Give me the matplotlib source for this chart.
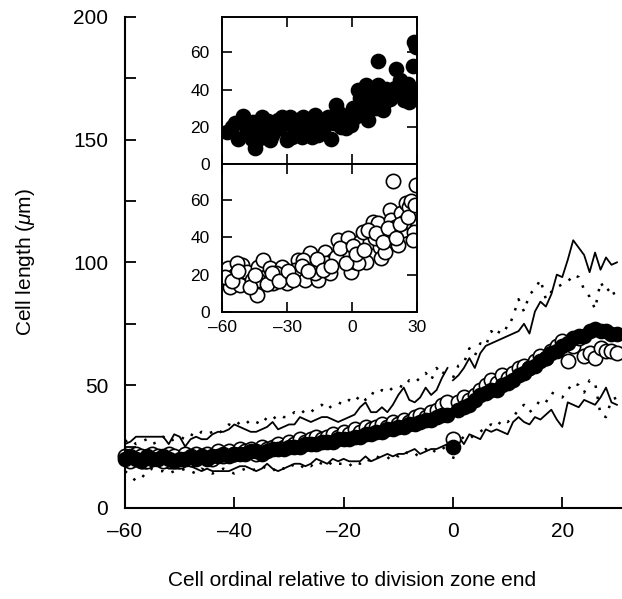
import numpy as np
import matplotlib
matplotlib.use("Agg")
import matplotlib.pyplot as plt

plt.rcParams['font.family'] = ['Liberation Sans', 'DejaVu Sans']
plt.rcParams['mathtext.fontset'] = 'custom'
plt.rcParams['mathtext.rm'] = 'Liberation Sans'
plt.rcParams['mathtext.it'] = 'Liberation Sans:italic'

# cell ordinal relative to division zone end
ordinal = np.arange(-60, 31)

filled_mean = [20, 21, 20, 19, 21, 20, 20, 21, 20, 19,
               20, 20, 21, 20, 21, 20, 21, 21, 22, 21,
               22, 22, 22, 23, 23, 22, 23, 24, 24, 24,
               25, 25, 25, 26, 26, 26, 27, 27, 27, 28,
               28, 28, 29, 29, 30, 30, 31, 31, 32, 32,
               33, 33, 34, 34, 35, 36, 36, 37, 38, 38,
               25, 40, 41, 42, 44, 46, 47, 48, 48, 50,
               51, 52, 54, 55, 57, 58, 60, 61, 63, 64,
               66, 67, 69, 70, 70, 72, 73, 72, 72, 71, 71]

open_mean = [21, 19, 22, 21, 19, 22, 21, 19, 22, 21,
             19, 22, 20, 22, 21, 22, 20, 23, 21, 23,
             22, 24, 23, 24, 22, 25, 24, 25, 26, 25,
             27, 26, 28, 27, 28, 29, 28, 29, 30, 29,
             31, 30, 32, 31, 33, 32, 33, 34, 33, 35,
             34, 36, 35, 37, 38, 37, 39, 40, 42, 43,
             28, 43, 45, 44, 46, 48, 50, 52, 51, 54,
             53, 55, 57, 58, 57, 60, 62, 61, 64, 66,
             68, 60, 66, 69, 62, 63, 61, 65, 64, 64, 63]

filled_upper = [26, 27, 29, 29, 29, 29, 29, 29, 26, 30,
                29, 25, 28, 29, 28, 28, 30, 31, 31, 32,
                34, 33, 32, 31, 31, 32, 33, 35, 32, 33,
                34, 34, 37, 36, 35, 36, 37, 37, 36, 35,
                36, 37, 38, 41, 43, 39, 39, 41, 39, 42,
                46, 49, 44, 43, 45, 49, 46, 48, 53, 57,
                52, 54, 57, 61, 57, 63, 66, 67, 68, 69,
                70, 71, 72, 75, 71, 80, 84, 82, 87, 95,
                94, 101, 109, 106, 103, 96, 104, 97, 102, 99, 100]

filled_lower = [18, 17, 17, 16, 16, 17, 17, 17, 16, 16,
                16, 17, 17, 16, 15, 16, 15, 15, 15, 15,
                16, 17, 17, 16, 15, 16, 18, 16, 15, 16,
                17, 18, 18, 17, 18, 20, 19, 18, 20, 19,
                20, 19, 19, 19, 21, 19, 20, 21, 22, 21,
                22, 22, 23, 24, 22, 23, 24, 24, 25, 26,
                27, 29, 26, 30, 29, 28, 32, 31, 32, 31,
                30, 35, 37, 35, 34, 37, 36, 38, 40, 36,
                33, 43, 42, 41, 44, 43, 42, 45, 49, 43, 42]

open_upper = [27, 28, 26, 27, 28, 26, 27, 29, 27, 28,
              29, 28, 30, 29, 31, 30, 31, 30, 32, 34,
              33, 35, 34, 36, 35, 34, 37, 36, 38, 37,
              37, 39, 38, 40, 39, 41, 42, 40, 42, 43,
              42, 44, 43, 46, 44, 47, 46, 48, 47, 49,
              50, 49, 52, 51, 53, 55, 52, 57, 54, 58,
              53, 58, 59, 65, 62, 67, 66, 72, 70, 74,
              73, 78, 85, 80, 87, 89, 93, 85, 88, 90,
              91, 92, 95, 94, 89, 86, 81, 92, 88, 90, 84]

open_lower = [15, 13, 11, 12, 15, 16, 15, 15, 14, 15,
              15, 16, 15, 14, 16, 15, 14, 15, 16, 15,
              14, 15, 16, 15, 16, 17, 16, 15, 17, 16,
              18, 17, 16, 18, 17, 19, 18, 17, 19, 18,
              18, 17, 19, 18, 20, 19, 21, 20, 20, 22,
              21, 23, 22, 21, 23, 24, 22, 24, 25, 23,
              20, 27, 29, 28, 30, 31, 33, 34, 33, 36,
              35, 37, 40, 42, 39, 41, 44, 43, 47, 46,
              45, 48, 51, 50, 47, 52, 51, 38, 37, 44, 45]

# inset: individual cells
inset_filled_x = [-55.5, -50.2, -52.5, -44.8, -47.9, -41.7, -37.9, -40.2, -34.1, -28.7,
                  -30.2, -26.4, -23.3, -21.8, -17.2, -15.7, -9.5, -12.6, -7.2, -11.1,
                  -1.9, -2.6, -0.3, 2.7, 6.6, 7.3, 4.3, 12.0, 14.2, 13.5,
                  12.0, 18.9, 20.4, 24.2, 27.3, 28.1, 28.8, 27.3, 10.4, -49.4,
                  -46.3, -43.3, -35.6, -32.5, -27.9, -24.9, -19.5, -18.7, -14.1, -5.7,
                  -4.9, 1.2, 5.8, 8.9, 16.5, 21.9, 22.7, 25.8, 15.8, 29.6,
                  -57.5, -53.8, -49.0, -45.5, -42.5, -39.0, -36.8, -33.3, -31.0, -25.8,
                  -22.5, -20.3, -16.3, -13.2, -8.2, -6.5, -3.8, 0.3, 3.5, 6.0,
                  9.7, 11.2, 14.8, 17.5, 19.8, 23.4, 26.5, 29.2]
inset_filled_y = [20.0, 25.6, 13.7, 8.4, 18.2, 25.3, 12.8, 20.0, 23.5, 25.3,
                  12.8, 18.2, 14.6, 21.7, 26.2, 15.5, 13.7, 20.8, 31.5, 25.3,
                  26.2, 19.1, 20.8, 39.6, 42.2, 23.5, 30.6, 42.2, 28.9, 36.0,
                  55.6, 39.6, 51.2, 34.2, 39.6, 52.9, 65.4, 36.9, 33.3, 21.7,
                  13.7, 18.2, 18.2, 25.3, 14.6, 23.5, 20.0, 14.6, 23.5, 25.3,
                  20.0, 25.3, 28.9, 36.0, 36.9, 44.9, 37.8, 43.1, 40.5, 62.7,
                  17.0, 22.0, 16.0, 22.5, 14.0, 23.0, 15.5, 19.5, 22.0, 20.5,
                  25.0, 17.5, 22.5, 17.0, 22.0, 28.0, 23.5, 30.0, 35.5, 38.0,
                  40.0, 30.0, 33.0, 35.0, 41.0, 40.5, 33.5, 38.0]

inset_open_x = [-57.1, -56.3, -54.0, -50.9, -51.7, -48.6, -46.3, -44.0, -43.3, -41.0,
                -40.2, -37.9, -36.4, -32.5, -31.8, -30.2, -28.7, -24.9, -24.1, -21.8,
                -19.5, -18.7, -15.7, -14.1, -12.6, -10.3, -8.8, -6.5, -4.2, -1.9,
                -3.4, -0.3, 1.2, 3.5, 4.3, 6.6, 8.1, 9.6, 12.0, 12.7,
                13.5, 15.0, 15.8, 17.3, 18.1, 18.9, 21.2, 22.7, 23.5, 25.0,
                26.5, 27.3, 28.8, 28.1, 29.6, -58.6, -53.3, -43.3, -34.9, -26.4,
                -22.6, -17.2, -11.8, -7.2, 2.7, 5.0, 10.4, 19.6, 24.2,
                -55.4, -52.8, -47.3, -45.0, -39.1, -36.8, -33.5, -29.5, -27.3, -23.2,
                -20.5, -16.0, -13.3, -9.5, -5.4, -2.7, 0.4, 2.0, 5.7, 7.3,
                11.1, 14.2, 16.6, 20.4, 22.0, 26.0, 29.0]
inset_open_y = [23.3, 13.5, 19.8, 25.1, 14.4, 21.5, 17.1, 9.1, 24.2, 27.8,
                18.9, 23.3, 15.3, 24.2, 18.0, 15.3, 19.8, 27.8, 20.7, 17.1,
                31.4, 24.2, 17.1, 27.8, 32.3, 20.7, 27.8, 38.5, 30.5, 39.4,
                33.1, 21.5, 26.9, 37.6, 29.6, 26.9, 37.6, 48.3, 47.4, 34.9,
                28.7, 32.3, 40.3, 54.5, 49.2, 69.7, 35.8, 52.7, 43.8, 58.1,
                56.3, 59.0, 42.9, 38.5, 67.9, 18.9, 26.0, 17.1, 20.7, 22.4,
                27.8, 20.7, 26.0, 29.6, 26.0, 42.9, 39.4, 45.6, 48.3,
                16.5, 22.0, 13.5, 20.0, 15.0, 21.0, 16.5, 22.0, 17.0, 24.5,
                22.0, 28.5, 22.5, 24.5, 34.0, 26.0, 35.0, 31.0, 33.0, 44.0,
                42.0, 37.5, 45.0, 39.5, 47.0, 50.5, 57.0]

dash = '\u2013'
ms = 10.3

fig = plt.figure(figsize=(6.22, 5.99), dpi=100)
ax = fig.add_axes([0.201, 0.152, 0.797, 0.820])

before = ordinal < 0
after = ordinal >= 0
for part in (before, after):
    ax.plot(ordinal[part], np.array(filled_upper)[part], color='black', lw=1.3, zorder=1)
    ax.plot(ordinal[part], np.array(filled_lower)[part], color='black', lw=1.3, zorder=1)
    ax.plot(ordinal[part], np.array(open_upper)[part], color='black', lw=1.8,
            ls=(0, (1, 3.5)), zorder=1)
    ax.plot(ordinal[part], np.array(open_lower)[part], color='black', lw=1.8,
            ls=(0, (1, 3.5)), zorder=1)

ax.plot(ordinal, open_mean, 'o', ms=ms, mfc='white', mec='black', mew=1.2,
        ls='none', zorder=2, clip_on=False)
ax.plot(ordinal, filled_mean, 'o', ms=ms, mfc='black', mec='black', mew=1.0,
        ls='none', zorder=3, clip_on=False)

ax.set_xlim(-60, 30.7)
ax.set_ylim(0, 200)
ax.spines['top'].set_visible(False)
ax.spines['right'].set_visible(False)
for s in ('left', 'bottom'):
    ax.spines[s].set_linewidth(1.5)
ax.set_xticks([-60, -40, -20, 0, 20])
ax.set_xticklabels([dash + '60', dash + '40', dash + '20', '0', '20'])
ax.set_yticks([0, 50, 100, 150, 200])
ax.set_yticks([25, 75, 125, 175], minor=True)
ax.tick_params(axis='both', which='both', direction='in', length=8, width=1.3,
               labelsize=15)
ax.tick_params(axis='y', pad=12)
ax.tick_params(axis='x', pad=10)
ax.set_xlabel('Cell ordinal relative to division zone end', fontsize=15)
ax.xaxis.set_label_coords(0.458, -0.128)
ax.set_ylabel('Cell length ($\\mu$m)', fontsize=15)
ax.yaxis.set_label_coords(-0.177, 0.5)

# inset panels
ins_top = fig.add_axes([0.357, 0.7262, 0.3135, 0.2454])
ins_bot = fig.add_axes([0.357, 0.4791, 0.3135, 0.2471])
ins_top.plot(inset_filled_x, inset_filled_y, 'o', ms=ms, mfc='black', mec='black',
             ls='none')
ins_bot.plot(inset_open_x, inset_open_y, 'o', ms=ms, mfc='white', mec='black',
             mew=1.2, ls='none')
for a in (ins_top, ins_bot):
    a.set_xlim(-60, 30)
    a.set_ylim(0, 79)
    a.set_xticks([-60, -30, 0, 30])
    a.set_yticks([0, 20, 40, 60])
    for s in a.spines.values():
        s.set_linewidth(1.4)
    a.tick_params(axis='both', direction='in', length=7, width=1.2, labelsize=12.5,
                  top=True, right=True)
    a.tick_params(axis='y', pad=9)
    a.tick_params(axis='x', pad=6)
ins_top.set_xticklabels([])
ins_bot.set_xticklabels([dash + '60', dash + '30', '0', '30'])

fig.savefig('out.png', dpi=100)
